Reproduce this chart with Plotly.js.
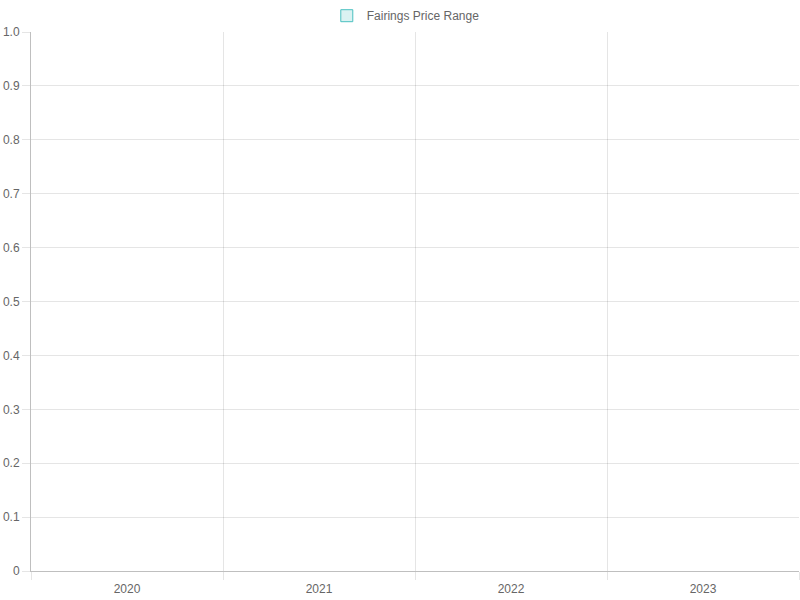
<!DOCTYPE html>
<html>
<head>
<meta charset="utf-8">
<script src="https://cdn.plot.ly/plotly-3.0.1.min.js"></script>
<style>html,body{margin:0;padding:0;background:#fff;}#chart{width:800px;height:600px;}</style>
</head>
<body>
<div id="chart"></div>
<script>
const years = ["2020", "2021", "2022", "2023"];
const priceLow = [null, null, null, null];
const priceHigh = [null, null, null, null];
const seriesName = "Fairings Price Range";
const yTickVals = [0, 0.1, 0.2, 0.3, 0.4, 0.5, 0.6, 0.7, 0.8, 0.9, 1.0];
const yTickText = ["0", "0.1", "0.2", "0.3", "0.4", "0.5", "0.6", "0.7", "0.8", "0.9", "1.0"];

const spans = priceHigh.map((h, i) => (h == null || priceLow[i] == null) ? null : h - priceLow[i]);

const trace = {
  type: "bar",
  name: seriesName,
  x: years,
  y: spans,
  base: priceLow,
  marker: { color: "rgba(75,192,192,0.2)", line: { color: "rgb(75,192,192)", width: 1 } },
  showlegend: true
};

const gridColor = "rgba(0,0,0,0.1)";
const layout = {
  width: 800, height: 600,
  margin: { l: 31, r: 1, t: 32, b: 29 },
  paper_bgcolor: "#fff", plot_bgcolor: "#fff",
  font: { family: "Liberation Sans, Arial, sans-serif", size: 12, color: "#666" },
  showlegend: true,
  legend: { orientation: "h", x: 0.488, xanchor: "center", yref: "container", y: 0.998, yanchor: "top",
            font: { size: 12, color: "#666" }, itemclick: false },
  xaxis: {
    type: "category", categoryorder: "array", categoryarray: years,
    range: [-0.5, years.length - 0.5],
    tickson: "boundaries", ticks: "outside", ticklen: 8, tickcolor: gridColor,
    ticklabelstandoff: 7,
    showgrid: true, gridcolor: gridColor, gridwidth: 1,
    showline: true, linecolor: "rgba(0,0,0,0.25)", linewidth: 1,
    zeroline: false, fixedrange: true, tickfont: { size: 12, color: "#666" }
  },
  yaxis: {
    range: [0, 1], tickvals: yTickVals, ticktext: yTickText,
    ticks: "outside", ticklen: 8, tickcolor: gridColor,
    showgrid: true, gridcolor: gridColor, gridwidth: 1,
    showline: true, linecolor: "rgba(0,0,0,0.25)", linewidth: 1,
    zeroline: false, fixedrange: true, tickfont: { size: 12, color: "#666" }
  },
  bargap: 0.2
};

Plotly.newPlot("chart", [trace], layout, { displayModeBar: false, staticPlot: true });
</script>
</body>
</html>
